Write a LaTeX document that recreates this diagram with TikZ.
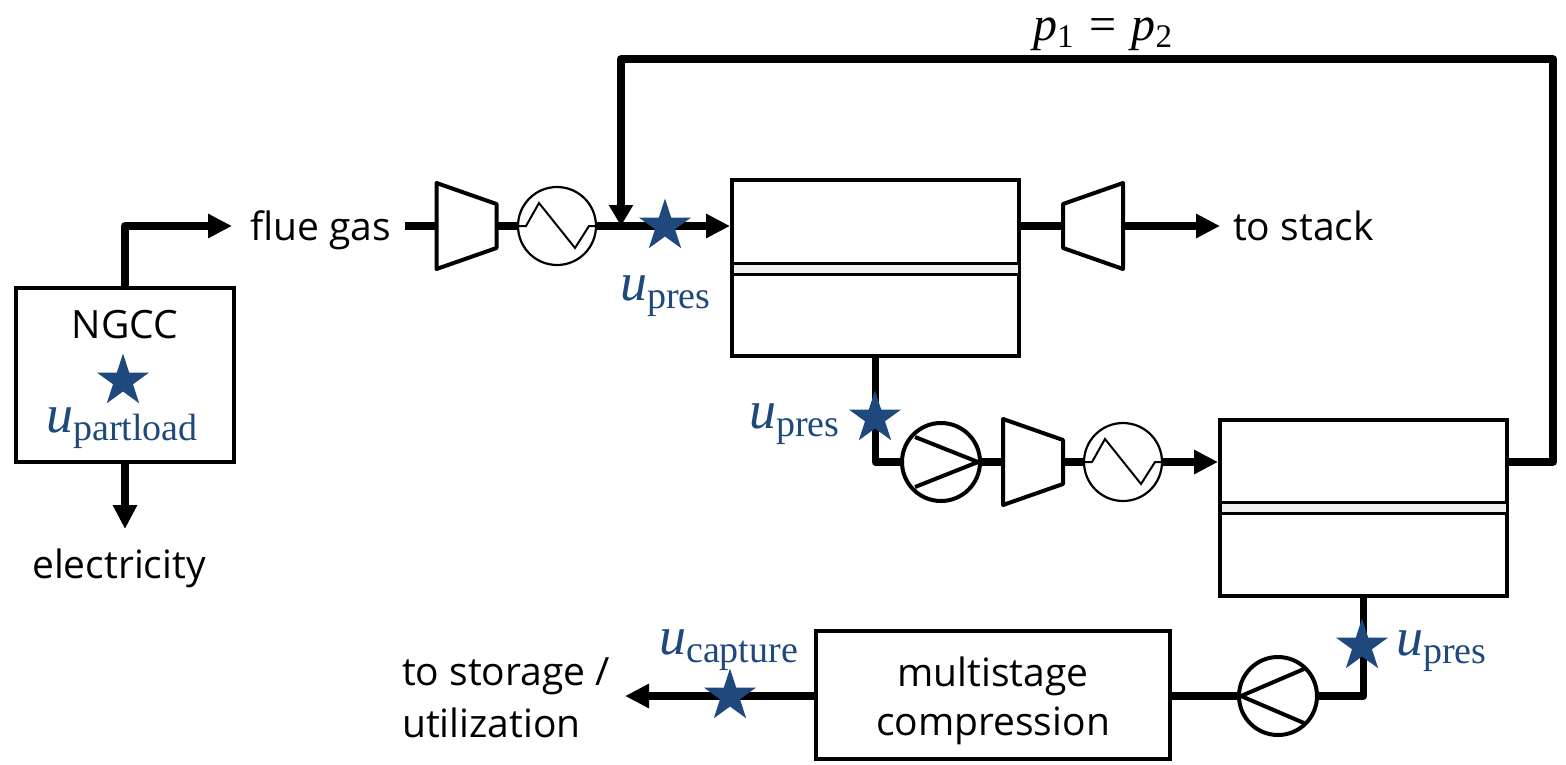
\documentclass[tikz,border=0pt]{standalone}
\usepackage{fontspec}
\setmainfont{Open Sans}
\newfontfamily\mathf{Liberation Serif}
\usetikzlibrary{arrows.meta,shapes.geometric,calc}
\definecolor{starblue}{HTML}{1F497D}
\definecolor{memb}{HTML}{F0F0F0}
\newcommand{\ulab}[1]{{\color{starblue}{\mathf\fontsize{54}{54}\selectfont\itshape u}\raisebox{-8pt}{\mathf\fontsize{38}{38}\selectfont #1}}}
\newcommand{\compR}[1]{\draw[trapline] ($(#1)+(-30,-43)$) -- ($(#1)+(30,-22)$) -- ($(#1)+(30,22)$) -- ($(#1)+(-30,43)$) -- cycle;}
\newcommand{\compL}[1]{\draw[trapline] ($(#1)+(30,-43)$) -- ($(#1)+(-30,-22)$) -- ($(#1)+(-30,22)$) -- ($(#1)+(30,43)$) -- cycle;}
\newcommand{\zigzag}[1]{\draw[thinline] ($(#1)+(-38,0)$) -- ($(#1)+(-31,0)$) -- ($(#1)+(-18,-23)$) -- ($(#1)+(18,22)$) -- ($(#1)+(32,0)$) -- ($(#1)+(38,0)$);}
\tikzset{
  box/.style={draw,line width=4pt,inner sep=0pt,align=center},
  membrane/.style={draw,line width=3pt,fill=memb,inner sep=0pt,minimum height=11pt},
  pipe/.style={line width=7.5pt,line join=round},
  arrowpipe/.style={pipe,-{Triangle[length=24pt,width=23pt]}},
  trapline/.style={line width=4pt,line join=round},
  thinline/.style={line width=2pt},
  compbox/.style={inner sep=0pt,minimum width=61pt,minimum height=86pt},
  hxc/.style={circle,draw,line width=2.2pt,fill=white,inner sep=0pt,minimum size=78pt},
  pumpc/.style={circle,draw,line width=4pt,fill=white,inner sep=0pt,minimum size=78pt},
  starn/.style={star,star points=5,star point ratio=2.618,fill=starblue,inner sep=0pt,minimum size=55pt},
  txt/.style={inner sep=0pt,font=\fontsize{39}{48}\selectfont,text=black},
}
\begin{document}
\begin{tikzpicture}[x=1pt,y=-1pt]
\useasboundingbox (0,0) rectangle (1566,764);
% main boxes
\node[box,minimum width=218pt,minimum height=174pt] (ngcc) at (125,375) {};
\node[box,minimum width=287pt,minimum height=176pt] (box1) at (875.5,268) {};
\node[box,minimum width=287pt,minimum height=176pt] (box2) at (1363.5,508) {};
\node[box,minimum width=354pt,minimum height=128pt] (multi) at (993,695) {};
\node[txt,align=center,font=\fontsize{39}{49}\selectfont] (multit) at (993,701) {multistage\\compression};
\node[membrane,minimum width=287pt] (m1) at (875.5,268.5) {};
\node[membrane,minimum width=287pt] (m2) at (1363.5,507.5) {};
% units
\node[compbox] (c1) at (466.5,226) {};
\node[compbox] (c2) at (1093,226) {};
\node[compbox] (c3) at (1033,462) {};
\node[hxc] (h1) at (557,226) {};
\node[hxc] (h2) at (1123,462) {};
\node[pumpc] (p1) at (941,462) {};
\node[pumpc] (p2) at (1278,696) {};
% text nodes
\node[txt,anchor=base west] (flue) at (250,240) {flue gas};
\node[txt,anchor=base west] (stack) at (1233,240) {to stack};
\node[txt,anchor=base] (ngcct) at (125,338) {NGCC};
\node[txt,anchor=base] (elec) at (119,578) {electricity};
\node[txt,align=left,anchor=west,font=\fontsize{39}{52}\selectfont] (stor) at (402,698) {to storage /\\utilization};
\coordinate (jn) at (621,226);
\coordinate (ngup) at (125,226);
\coordinate (st) at (232,226);
\coordinate (eld) at (125,529);
\coordinate (fluo) at (405,226);
\coordinate (stk) at (1220,226);
\coordinate (stout) at (625,696);
\coordinate (r) at (1553,462);
\coordinate (top) at (621,59);
% connectors
\draw[arrowpipe] (ngcc.north) -- (ngup) -- (st);
\draw[arrowpipe] (ngcc.south) -- (eld);
\draw[pipe] (fluo) -- (c1.west);
\draw[pipe] (c1.east) -- (h1.west);
\draw[arrowpipe] (h1.east) -- (box1.west |- h1);
\draw[pipe,-{Triangle[length=21pt,width=23pt]}] (box2.east |- r) -- (r) -- (r |- top) -- (top) -- (jn);
\draw[pipe] (box1.east |- c2) -- (c2.west);
\draw[arrowpipe] (c2.east) -- (stk);
\draw[pipe] (box1.south) -- (box1.south |- p1) -- (p1.west);
\draw[pipe] (p1.east) -- (c3.west);
\draw[pipe] (c3.east) -- (h2.west);
\draw[arrowpipe] (h2.east) -- (box2.west |- h2);
\draw[pipe] (box2.south) -- (box2.south |- p2) -- (p2.east);
\draw[pipe] (p2.west) -- (multi.east |- p2);
\draw[arrowpipe] (multi.west |- p2) -- (stout);
% symbol redraw
\compR{c1}
\compL{c2}
\compR{c3}
\zigzag{h1}
\zigzag{h2}
\draw[trapline] ($(p1)+(-26,-25)$) -- ($(p1)+(37,0)$) -- ($(p1)+(-26,25)$);
\draw[trapline] ($(p2)+(26,-27)$) -- ($(p2)+(-37,0)$) -- ($(p2)+(26,27)$);
% stars
\node[starn] (s1) at (123,381) {};
\node[starn] (s2) at (665,226) {};
\node[starn] (s3) at (875,418) {};
\node[starn] (s4) at (1362,646) {};
\node[starn] (s5) at (730,696) {};
% labels
\node[inner sep=0pt,anchor=base west] (u1) at (46,432) {\ulab{partload}};
\node[inner sep=0pt,anchor=base west] (u2) at (620,300) {\ulab{pres}};
\node[inner sep=0pt,anchor=base west] (u3) at (749,428) {\ulab{pres}};
\node[inner sep=0pt,anchor=base west] (u4) at (1396,655) {\ulab{pres}};
\node[inner sep=0pt,anchor=base west] (u5) at (659,654) {\ulab{capture}};
\node[inner sep=0pt,anchor=base west,font=\fontsize{48}{48}\selectfont] (eq) at (1033,40) {{\mathf\itshape p}{\mathf\raisebox{-7pt}{\fontsize{33}{33}\selectfont 1}}\hspace{3pt} {\mathf =}\hspace{3pt} {\mathf\itshape p}{\mathf\raisebox{-7pt}{\fontsize{33}{33}\selectfont 2}}};
\end{tikzpicture}
\end{document}
